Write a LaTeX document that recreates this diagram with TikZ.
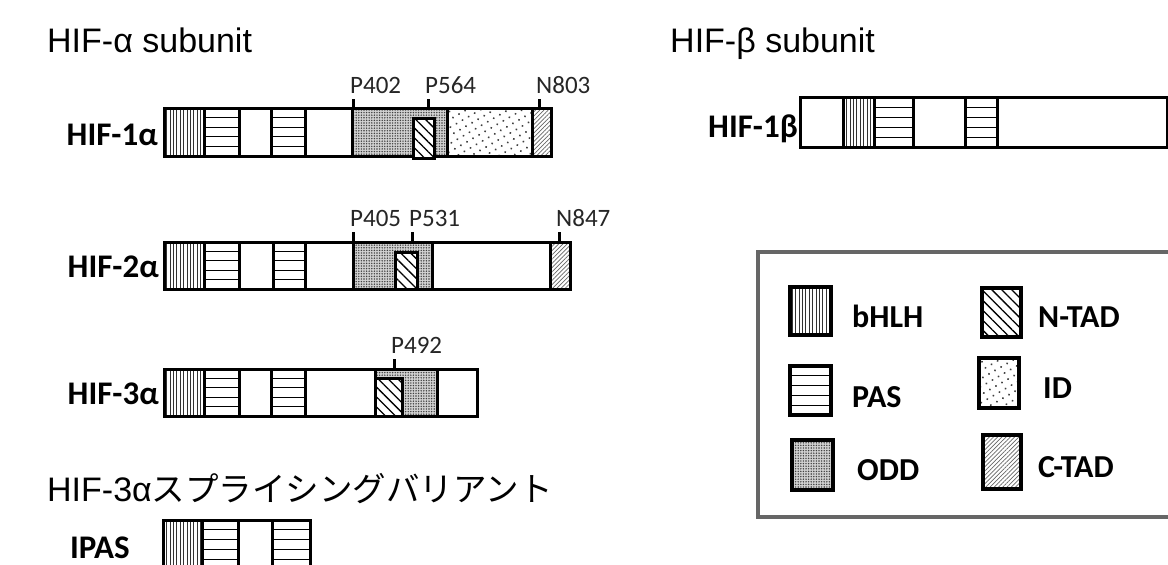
\documentclass[tikz,border=0pt]{standalone}
\usepackage{fontspec}
\setmainfont{Carlito}
\newfontfamily\headfont{Liberation Sans}
\newfontfamily\cjk{Noto Sans CJK JP}
\usetikzlibrary{patterns.meta}

% domain fills
\tikzset{
  seg/.style={draw, line width=3pt},
  blank/.style={seg, fill=white},
  bhlh/.style={seg, pattern={Lines[angle=90,distance=3.4pt,line width=0.9pt]}, pattern color=black!80},
  odd/.style={seg, preaction={fill=black!18}, pattern={Dots[distance=2.6pt,radius=0.8pt]}, pattern color=black!75},
  ntad/.style={seg, preaction={fill=white}, pattern={Lines[angle=-45,distance=7pt,line width=1.3pt]}},
  iddom/.style={seg, pattern={Dots[distance=7pt,radius=1.1pt,angle=30]}, pattern color=black!75},
  ctad/.style={seg, pattern={Lines[angle=45,distance=3pt,line width=0.7pt]}, pattern color=black!60},
  tickmark/.style={line width=3pt},
  prot/.style={font=\bfseries\fontsize{33}{33}\selectfont, anchor=base east, inner sep=0pt},
  site/.style={font=\fontsize{25}{25}\selectfont, anchor=base west, inner sep=0pt, text=black!85},
  head/.style={font=\headfont\fontsize{34}{34}\selectfont, anchor=base west, inner sep=0pt},
  legtext/.style={font=\bfseries\fontsize{32}{32}\selectfont, anchor=base west, inner sep=0pt},
}
% PAS box with horizontal stripes
\newcommand{\pasbox}[5][3pt]{%
  \draw[seg, line width=#1, fill=white] (#2,#4) rectangle (#3,#5);
  \foreach \k in {1,...,4}
    \draw[line width=1pt] (#2,{#4+\k*(#5-#4)/5}) -- (#3,{#4+\k*(#5-#4)/5});
}
% modification site: tick and label
\newcommand{\sitemark}[4]{%
  \draw[tickmark] (#1,#3) -- (#1,#2);
  \node[site] (#4) at (#1-3,#3-6) {#4};
}

\begin{document}
\begin{tikzpicture}[x=1pt,y=-1pt]
  \useasboundingbox (0,0) rectangle (1168,565);
  \fill[white] (0,0) rectangle (1168,565);

  % headers
  \node[head] (alphahead) at (47,52) {HIF-α subunit};
  \node[head] (betahead) at (670,52) {HIF-β subunit};
  \node[head] (varhead) at (47,501) {HIF-3α{\cjk\fontsize{33.5}{33.5}\selectfont スプライシングバリアント}};

  % HIF-1alpha
  \node[prot] (hif1a) at (158,145) {HIF-1α};
  \draw[bhlh] (164,108) rectangle (204,156);
  \pasbox{204}{239}{108}{156}
  \draw[blank] (239,108) rectangle (271,156);
  \pasbox{271}{305}{108}{156}
  \draw[blank] (305,108) rectangle (352,156);
  \draw[odd] (352,108) rectangle (447,156);
  \draw[iddom] (447,108) rectangle (532,156);
  \draw[ctad] (532,108) rectangle (551,156);
  \draw[ntad] (413,118) rectangle (434,158);
  \sitemark{353}{108}{99}{P402}
  \sitemark{428}{108}{99}{P564}
  \sitemark{539}{108}{99}{N803}

  % HIF-2alpha
  \node[prot] (hif2a) at (159,277) {HIF-2α};
  \draw[bhlh] (164,242) rectangle (204,289);
  \pasbox{204}{239}{242}{289}
  \draw[blank] (239,242) rectangle (273,289);
  \pasbox{273}{305}{242}{289}
  \draw[blank] (305,242) rectangle (353,289);
  \draw[odd] (353,242) rectangle (432,289);
  \draw[blank] (432,242) rectangle (550,289);
  \draw[ctad] (550,242) rectangle (570,289);
  \draw[ntad] (395,252) rectangle (417,289);
  \sitemark{353}{242}{232}{P405}
  \sitemark{412}{242}{232}{P531}
  \sitemark{559}{242}{232}{N847}

  % HIF-3alpha
  \node[prot] (hif3a) at (159,404) {HIF-3α};
  \draw[bhlh] (164,369) rectangle (204,416);
  \pasbox{204}{239}{369}{416}
  \draw[blank] (239,369) rectangle (271,416);
  \pasbox{271}{305}{369}{416}
  \draw[blank] (305,369) rectangle (375,416);
  \draw[odd] (375,369) rectangle (437,416);
  \draw[blank] (437,369) rectangle (477,416);
  \draw[ntad] (375,378) rectangle (402,416);
  \sitemark{394}{369}{359}{P492}

  % IPAS
  \node[prot] (ipas) at (130,558) {IPAS};
  \draw[bhlh] (163,520) rectangle (202,569);
  \pasbox{202}{238}{520}{569}
  \draw[blank] (238,520) rectangle (272,569);
  \pasbox{272}{310}{520}{569}

  % HIF-1beta
  \node[prot] (hif1b) at (798,137) {HIF-1β};
  \draw[blank] (800,97) rectangle (1167,147);
  \draw[bhlh] (843,97) rectangle (874,147);
  \pasbox{874}{913}{97}{147}
  \pasbox{965}{997}{97}{147}

  % legend
  \draw[draw=black!60, line width=4pt] (1180,252) -| (758,517) -- (1180,517);
  \draw[bhlh, line width=3.5pt] (790,287) rectangle (831,335);
  \node[legtext] (lbhlh) at (852,327) {bHLH};
  \pasbox[3.5pt]{790}{831}{366}{415}
  \node[legtext] (lpas) at (852,407) {PAS};
  \draw[odd, line width=3.5pt] (792,440) rectangle (833,490);
  \node[legtext] (lodd) at (857,480) {ODD};
  \draw[ntad, line width=3.5pt] (982,288) rectangle (1021,337);
  \node[legtext] (lntad) at (1038,327) {N-TAD};
  \draw[iddom, line width=3.5pt] (979,358) rectangle (1019,408);
  \node[legtext] (lid) at (1043,398) {ID};
  \draw[ctad, line width=3.5pt] (983,435) rectangle (1021,489);
  \node[legtext] (lctad) at (1038,477) {C-TAD};
\end{tikzpicture}
\end{document}
